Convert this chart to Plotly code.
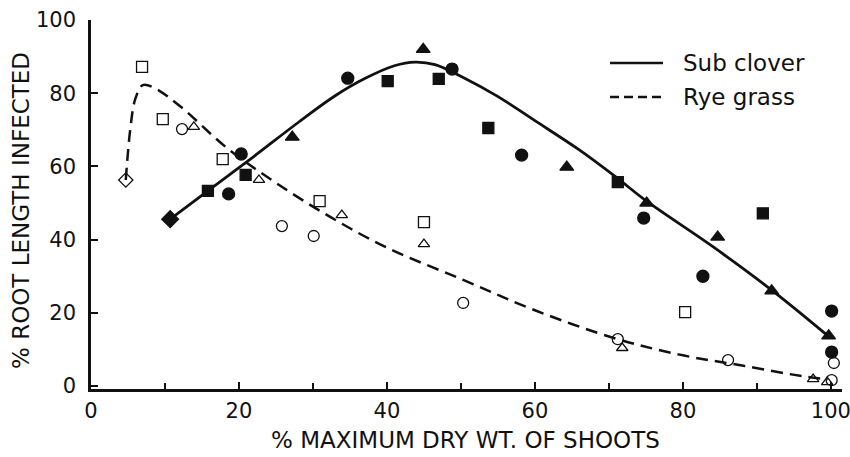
import plotly.graph_objects as go

# ---------------- data ----------------
# Sub clover (filled markers)
sc_circle_x = [18.6, 20.3, 34.7, 48.8, 58.2, 74.7, 82.7, 100.1, 100.1]
sc_circle_y = [52.5, 63.4, 84.1, 86.6, 63.1, 45.9, 30.0, 20.5, 9.3]
sc_square_x = [15.8, 20.9, 40.1, 47.0, 53.7, 71.2, 90.8]
sc_square_y = [53.3, 57.7, 83.3, 83.9, 70.5, 55.7, 47.2]
sc_tri_x = [27.2, 44.9, 64.3, 75.1, 84.7, 92.0, 99.7]
sc_tri_y = [68.0, 92.0, 59.8, 50.0, 40.7, 26.0, 13.7]
sc_diamond_x = [10.7]
sc_diamond_y = [45.6]

# Sub clover fitted curve
sc_curve_x = [10.7, 15.8, 22.0, 28.0, 33.0, 37.0, 41.0, 43.8, 46.5, 50.3,
              54.9, 60.0, 66.0, 71.0, 75.1, 84.1, 92.0, 99.6]
sc_curve_y = [45.6, 53.3, 62.7, 72.0, 79.3, 84.0, 87.5, 88.5, 87.8, 84.3,
              79.2, 72.5, 64.5, 57.0, 50.5, 38.0, 26.2, 13.7]

# Rye grass (open markers)
rg_circle_x = [12.3, 25.8, 30.1, 50.3, 71.2, 86.1, 100.4, 100.1]
rg_circle_y = [70.2, 43.7, 41.0, 22.7, 12.8, 7.1, 6.3, 1.6]
rg_square_x = [6.9, 9.7, 17.8, 30.9, 45.0, 80.3]
rg_square_y = [87.2, 72.9, 62.0, 50.5, 44.8, 20.2]
rg_tri_x = [13.9, 22.7, 33.9, 45.0, 71.8, 97.6, 99.5]
rg_tri_y = [70.8, 56.3, 46.7, 38.8, 10.4, 1.9, 1.1]
rg_diamond_x = [4.7]
rg_diamond_y = [56.3]

# Rye grass fitted curve
rg_curve_x = [4.7, 5.3, 6.0, 7.0, 8.5, 12.0, 18.4, 25.0, 32.5, 40.0, 50.3,
              60.0, 71.2, 80.0, 88.0, 96.8, 99.6]
rg_curve_y = [56.3, 70.0, 78.5, 82.2, 81.5, 76.5, 65.0, 55.5, 46.0, 37.8, 29.0,
              20.7, 12.8, 8.4, 5.6, 2.5, 1.9]

x_ticks = [0, 20, 40, 60, 80, 100]
y_ticks = [0, 20, 40, 60, 80, 100]

series_names = ["Sub clover", "Rye grass"]
x_title = "% MAXIMUM DRY WT. OF SHOOTS"
y_title = "% ROOT LENGTH INFECTED"

# ---------------- figure ----------------
INK = "#111111"
FONT = "DejaVu Sans"

fig = go.Figure()

fig.add_trace(go.Scatter(x=sc_curve_x, y=sc_curve_y, mode="lines",
                         line=dict(color=INK, width=2.8, shape="spline", smoothing=1.0),
                         name=series_names[0], showlegend=False, hoverinfo="skip"))
fig.add_trace(go.Scatter(x=rg_curve_x, y=rg_curve_y, mode="lines",
                         line=dict(color=INK, width=2.5, shape="spline", smoothing=1.0,
                                   dash="12px,7px"),
                         name=series_names[1], showlegend=False, hoverinfo="skip"))

def pts(x, y, symbol, size, name):
    fig.add_trace(go.Scatter(
        x=x, y=y, mode="markers", name=name, showlegend=False,
        marker=dict(symbol=symbol, size=size, color=INK,
                    line=dict(color=INK, width=1.3))))

pts(sc_circle_x, sc_circle_y, "circle", 12, series_names[0])
pts(sc_square_x, sc_square_y, "square", 11, series_names[0])
pts(sc_tri_x, sc_tri_y, "triangle-up", 12, series_names[0])
pts(sc_diamond_x, sc_diamond_y, "diamond", 13, series_names[0])

pts(rg_circle_x, rg_circle_y, "circle-open", 11, series_names[1])
pts(rg_square_x, rg_square_y, "square-open", 11, series_names[1])
pts(rg_tri_x, rg_tri_y, "triangle-up-open", 10, series_names[1])
pts(rg_diamond_x, rg_diamond_y, "diamond-open", 11, series_names[1])

# ---------------- layout ----------------
W, H = 850, 457
L, T, R = 91, 20, 8
B = H - 389
pw, ph = W - L - R, H - T - B

def px_to_paper_x(px):
    return (px - L) / pw

def py_to_paper_y(py):
    return (H - B - py) / ph

fig.update_layout(
    width=W, height=H, autosize=False,
    margin=dict(l=L, r=R, t=T, b=B, pad=0, autoexpand=False),
    paper_bgcolor="white", plot_bgcolor="white",
    font=dict(family=FONT, color=INK, size=21),
    showlegend=False,
    xaxis=dict(range=[0, 101.5], tickvals=x_ticks, ticks="inside", ticklen=7,
               tickwidth=2, tickcolor=INK, showline=True, linewidth=2.5,
               linecolor=INK, showgrid=False, zeroline=False, automargin=False,
               ticklabelstandoff=1, ticklabeloverflow="allow",
               minor=dict(dtick=10, tick0=0, ticks="inside", ticklen=6,
                          tickwidth=2, tickcolor=INK, showgrid=False),
               tickfont=dict(size=21, family=FONT, color=INK)),
    yaxis=dict(range=[-0.8, 100], tickvals=y_ticks, ticks="inside", ticklen=7,
               tickwidth=2, tickcolor=INK, showline=True, linewidth=2.5,
               linecolor=INK, showgrid=False, zeroline=False, automargin=False,
               ticklabelstandoff=8, ticklabeloverflow="allow",
               tickfont=dict(size=21, family=FONT, color=INK)),
)

# axis titles
fig.add_annotation(text=x_title, xref="paper", yref="paper",
                   x=px_to_paper_x(465), y=py_to_paper_y(440),
                   xanchor="center", yanchor="middle", showarrow=False,
                   font=dict(size=23, family=FONT, color=INK))
fig.add_annotation(text=y_title, xref="paper", yref="paper",
                   x=px_to_paper_x(21), y=py_to_paper_y(211), textangle=-90,
                   xanchor="center", yanchor="middle", showarrow=False,
                   font=dict(size=23, family=FONT, color=INK))

# manual legend
leg_rows = [(63, "solid", 2.5), (97, "9px,5px", 2.5)]
for (py, dash, lw), name in zip(leg_rows, series_names):
    fig.add_shape(type="line", xref="paper", yref="paper",
                  x0=px_to_paper_x(610), x1=px_to_paper_x(663),
                  y0=py_to_paper_y(py), y1=py_to_paper_y(py),
                  line=dict(color=INK, width=lw, dash=dash))
    fig.add_annotation(text=name, xref="paper", yref="paper",
                       x=px_to_paper_x(681), y=py_to_paper_y(py),
                       xanchor="left", yanchor="middle", showarrow=False,
                       font=dict(size=23, family=FONT, color=INK))

# remove the default page margin so the figure sits at the window's corner
fig.write_html("out.html",
               config={"displayModeBar": False},
               post_script="document.body.style.margin='0';"
                           "document.body.style.overflow='hidden';")
